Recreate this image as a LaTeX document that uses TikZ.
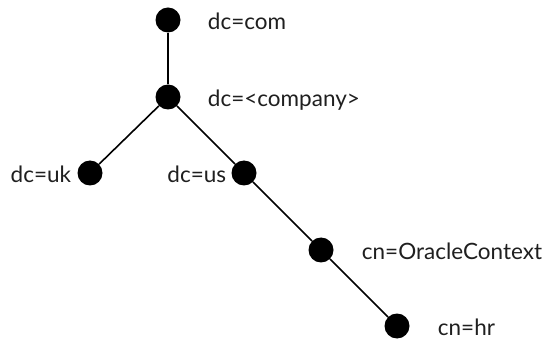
\documentclass[tikz,border=0pt]{standalone}
\usepackage{fontspec}
\setmainfont{Lato}
\usepackage{tikz}
\usetikzlibrary{positioning}

\begin{document}
\begin{tikzpicture}[x=1pt, y=-1pt,
  punto/.style={circle, fill=black, inner sep=0pt, minimum size=25pt},
  etiqueta/.style={font=\fontsize{22.5}{26}\selectfont, inner sep=0pt,
    text=black!88, text height=16pt, text depth=5pt, yshift=-4pt},
  arista/.style={draw=black, line width=1.6pt}
]
\useasboundingbox (0,0) rectangle (549,339);
% Nodos del arbol
\node[punto] (com) at (168,20) {};
\node[punto] (company) at (168,97) {};
\node[punto] (uk) at (90,173) {};
\node[punto] (us) at (244,173) {};
\node[punto] (oracle) at (321,250) {};
\node[punto] (hr) at (397,326) {};
% Aristas
\draw[arista] (com) -- (company);
\draw[arista] (company) -- (uk);
\draw[arista] (company) -- (us);
\draw[arista] (us) -- (oracle);
\draw[arista] (oracle) -- (hr);
% Etiquetas
\node[etiqueta, right=27pt of com] (tcom) {dc=com};
\node[etiqueta, right=27pt of company] (tcompany) {dc=<company>};
\node[etiqueta, left=6pt of uk] (tuk) {dc=uk};
\node[etiqueta, left=5pt of us] (tus) {dc=us};
\node[etiqueta, right=28pt of oracle] (toracle) {cn=OracleContext};
\node[etiqueta, right=28pt of hr] (thr) {cn=hr};
\end{tikzpicture}
\end{document}
